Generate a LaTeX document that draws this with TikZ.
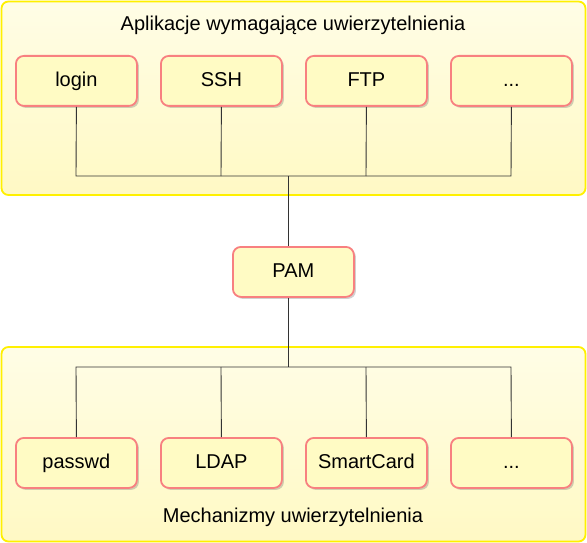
\documentclass[tikz,border=0pt]{standalone}
\usepackage{fontspec}
\setmainfont{Liberation Sans}
\usetikzlibrary{shadows}
\definecolor{contborder}{HTML}{FFF000}
\definecolor{conttop}{HTML}{FFFDE6}
\definecolor{contbot}{HTML}{FFF9C4}
\definecolor{boxborder}{HTML}{F88080}
\definecolor{boxfill}{HTML}{FFFBC4}
\begin{document}
\begin{tikzpicture}[x=1pt,y=-1pt,
  container/.style={draw=contborder, line width=1.8pt, rounded corners=7pt,
    top color=conttop, bottom color=contbot},
  itembox/.style={draw=boxborder, line width=1.8pt, rounded corners=8pt,
    fill=boxfill, minimum width=121pt, minimum height=50pt, inner sep=0pt,
    text height=14.5pt, text depth=4pt,
    font=\fontsize{20}{22}\selectfont,
    drop shadow={shadow xshift=2pt, shadow yshift=-2pt, opacity=0.3, fill=black!60}},
  conn/.style={draw=black!80, line width=0.9pt},
  lbl/.style={font=\fontsize{20}{22}\selectfont, inner sep=0pt}]
\useasboundingbox (0,0) rectangle (587,543);
% containers
\path[container] (1.5,1.5) rectangle (585.5,195);
\path[container] (1.5,347) rectangle (585.5,541.5);
\node[lbl] (ttop) at (293,25) {Aplikacje wymagające uwierzytelnienia};
\node[lbl] (tbot) at (293,517) {Mechanizmy uwierzytelnienia};
% junction coordinates
\coordinate (jt) at (288,176);
\coordinate (jb) at (288,367);
\foreach \n/\x in {a/76,b/221,c/366,d/511}{
  \coordinate (ta\n) at (\x,176);
  \coordinate (ba\n) at (\x,367);
}
\node[itembox, anchor=north west] (login) at (15,55) {login};
\node[itembox, anchor=north west] (ssh) at (160,55) {SSH};
\node[itembox, anchor=north west] (ftp) at (305,55) {FTP};
\node[itembox, anchor=north west] (more1) at (450,55) {...};
\node[itembox, anchor=north west] (pam) at (232,246) {PAM};
\node[itembox, anchor=north west] (passwd) at (15,437) {passwd};
\node[itembox, anchor=north west] (ldap) at (160,437) {LDAP};
\node[itembox, anchor=north west] (smart) at (305,437) {SmartCard};
\node[itembox, anchor=north west] (more2) at (450,437) {...};
\draw[conn] (login.south) -- (taa) -- (tad) -- (more1.south);
\draw[conn] (ssh.south) -- (tab);
\draw[conn] (ftp.south) -- (tac);
\draw[conn] (jt) -- (jt |- pam.north);
\draw[conn] (jb |- pam.south) -- (jb);
\draw[conn] (passwd.north) -- (baa) -- (bad) -- (more2.north);
\draw[conn] (ldap.north) -- (bab);
\draw[conn] (smart.north) -- (bac);
\end{tikzpicture}
\end{document}
